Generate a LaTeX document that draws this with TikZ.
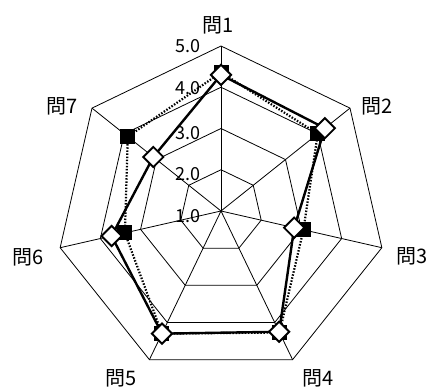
\documentclass[tikz,border=0pt]{standalone}
\usepackage{fontspec}
\setmainfont{Noto Sans CJK JP}
\usetikzlibrary{shapes.geometric}
\begin{document}
\begin{tikzpicture}[x=1pt,y=1pt,
  grid/.style={black, line width=0.8pt},
  serA/.style={black, line width=2.4pt, line join=miter},
  serB/.style={black, line width=2.2pt, dash pattern=on 1.5pt off 1.6pt},
  dmark/.style={diamond, draw=black, fill=white, line width=1.9pt, minimum width=21pt, minimum height=21pt, inner sep=0pt},
  smark/.style={rectangle, fill=black, minimum size=15pt, inner sep=0pt},
  axlab/.style={font=\fontsize{20}{24}\selectfont, inner sep=0pt},
  ticklab/.style={font=\fontsize{18}{20}\selectfont, inner sep=0pt, anchor=east}]
\useasboundingbox (0,0) rectangle (428,390);
\coordinate (O) at (221,179);
\begin{scope}[shift={(O)}]
  % rings
  \foreach \L in {1,...,4} {
    \draw[grid] (90:{\L*41.25}) \foreach \k in {1,...,6} { -- ({90-\k*360/7}:{\L*41.25}) } -- cycle;
  }
  % spokes
  \foreach \k in {1,...,7} {
    \coordinate (v\k) at ({90-(\k-1)*360/7}:165);
    \draw[grid] (O) -- (v\k);
  }
  % data coordinates
  \foreach \v [count=\k] in {4.3,4.22,2.82,4.25,4.3,3.72,3.1} {
    \coordinate (pa\k) at ({90-(\k-1)*360/7}:{(\v-1)*41.25});
  }
  \foreach \v [count=\k] in {4.36,4.0,3.05,4.27,4.3,3.39,3.89} {
    \coordinate (pb\k) at ({90-(\k-1)*360/7}:{(\v-1)*41.25});
  }
\end{scope}
% dotted series with squares
\draw[serB] (pb1) -- (pb2) -- (pb3) -- (pb4) -- (pb5) -- (pb6) -- (pb7) -- cycle;
\foreach \k in {1,...,7} { \node[smark] (sb\k) at (pb\k) {}; }
% solid series with diamonds
\draw[serA] (pa1) -- (pa2) -- (pa3) -- (pa4) -- (pa5) -- (pa6) -- (pa7) -- cycle;
\foreach \k in {1,...,7} { \node[dmark] (da\k) at (pa\k) {}; }
% tick labels
\node[ticklab] (t5) at (201,343.5) {5.0};
\node[ticklab] (t4) at (201,301.5) {4.0};
\node[ticklab] (t3) at (201,256.5) {3.0};
\node[ticklab] (t2) at (201,216) {2.0};
\node[ticklab] (t1) at (201,174) {1.0};
% axis labels
\node[axlab] (q1) at (218,365) {問1};
\node[axlab] (q2) at (377,284) {問2};
\node[axlab] (q3) at (412,134) {問3};
\node[axlab] (q4) at (318,12) {問4};
\node[axlab] (q5) at (121,12) {問5};
\node[axlab] (q6) at (28,133) {問6};
\node[axlab] (q7) at (62,284) {問7};
\end{tikzpicture}
\end{document}
